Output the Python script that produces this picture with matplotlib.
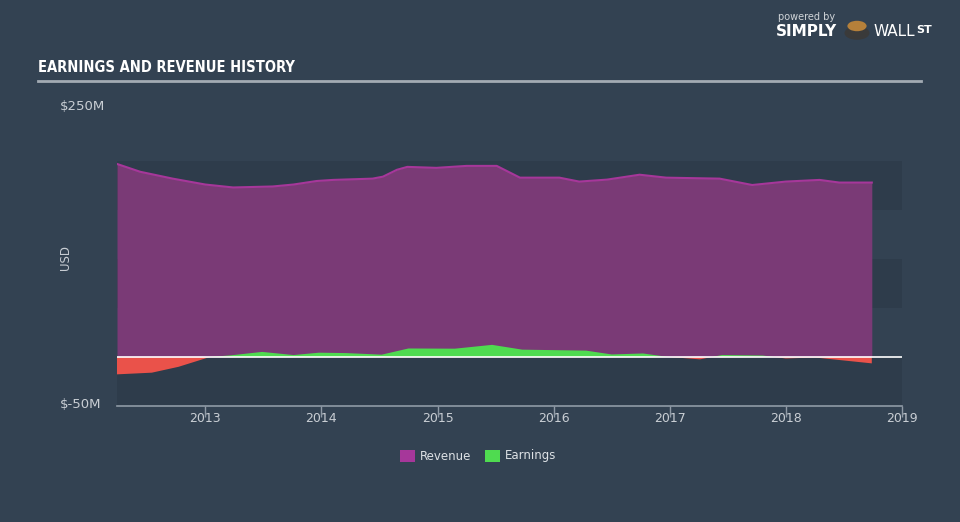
import matplotlib
matplotlib.use("Agg")
import matplotlib.pyplot as plt
from matplotlib.patches import Rectangle, Circle
import numpy as np

# values (US$ millions, decimal years)
rev_years = [2012.24, 2012.44, 2012.72, 2013.00, 2013.24, 2013.58, 2013.76,
             2013.96, 2014.10, 2014.44, 2014.53, 2014.65, 2014.74, 2014.99,
             2015.25, 2015.51, 2015.71, 2016.05, 2016.22, 2016.46, 2016.74,
             2016.97, 2017.43, 2017.71, 2018.00, 2018.29, 2018.46, 2018.74]
revenue = [197, 189, 182, 176, 173, 174, 176,
           179.6, 180.7, 182, 184, 191, 194, 193,
           195, 195, 183, 183, 179, 181, 186,
           183, 182, 175.5, 179, 180.7, 178, 178]

earn_years = [2012.24, 2012.54, 2012.77, 2013.04, 2013.22, 2013.49, 2013.76,
              2013.98, 2014.21, 2014.52, 2014.75, 2015.15, 2015.47, 2015.73,
              2016.28, 2016.50, 2016.77, 2016.97, 2017.26, 2017.45, 2017.80,
              2018.00, 2018.25, 2018.74]
earnings = [-17.7, -16, -10, 0, 1.7, 5.2, 2,
            4.4, 4, 2.4, 8.7, 8.5, 12.4, 7.5,
            6.5, 2.6, 3.6, 0.3, -2.4, 2, 1.5,
            -1.5, -0.5, -6.5]

year_ticks = [2013, 2014, 2015, 2016, 2017, 2018, 2019]

BG = "#334252"
BAND = "#2e3c4b"
REV_FILL = "#7a3a76"
REV_LINE = "#a6379a"
GREEN = "#4fdb50"
RED = "#ea524a"
TXT = "#c9ced4"

fig = plt.figure(figsize=(9.6, 5.22), dpi=100, facecolor=BG)
ax = fig.add_axes([117 / 960, 1 - 406 / 522, 785 / 960, 294 / 522])
ax.set_facecolor(BG)
ax.set_xlim(2012.24, 2019.0)
ax.set_ylim(-50, 250)

# alternating background bands from -50 to 200
for lo in (-50, 50, 150):
    ax.add_patch(Rectangle((2012.24, lo), 2019.0 - 2012.24, 50,
                           facecolor=BAND, edgecolor="none", zorder=0))

rx = np.array(rev_years)
ry = np.array(revenue)
ax.fill_between(rx, 0, ry, color=REV_FILL, lw=0, zorder=1)
ax.plot(rx, ry, color=REV_LINE, lw=1.5, zorder=2)

ex = np.array(earn_years)
ey = np.array(earnings)
ax.fill_between(ex, 0, ey, where=ey >= 0, interpolate=True, color=GREEN, lw=0, zorder=3)
ax.fill_between(ex, 0, ey, where=ey <= 0, interpolate=True, color=RED, lw=0, zorder=3)
ax.axhline(0, color="white", lw=1.2, zorder=4)

for s in ("top", "right", "left"):
    ax.spines[s].set_visible(False)
ax.spines["bottom"].set_color("#8f9aa6")
ax.spines["bottom"].set_linewidth(1.2)
ax.set_yticks([])
ax.set_xticks(year_ticks)
ax.set_xticklabels([str(y) for y in year_ticks])
ax.tick_params(axis="x", colors="#8f9aa6", length=8, width=1, pad=-4,
               labelcolor=TXT, labelsize=9)

# y labels at the extremes, like the reference
fig.text(60 / 960, 1 - 107 / 522, "$250M", color=TXT, fontsize=9.5, va="center", ha="left")
fig.text(60 / 960, 1 - 405 / 522, "$-50M", color=TXT, fontsize=9.5, va="center", ha="left")
fig.text(66 / 960, 1 - 258 / 522, "USD", color=TXT, fontsize=8.5, rotation=90,
         va="center", ha="center")

# title and underline
fig.text(38 / 960, 1 - 68 / 522, "EARNINGS AND REVENUE HISTORY", color="white",
         fontsize=10.5, fontweight="bold", family="DejaVu Sans", fontstretch="condensed",
         va="center", ha="left")
fig.add_artist(plt.Line2D([38 / 960, 921 / 960], [1 - 81 / 522, 1 - 81 / 522],
                          color="#a3abb3", lw=2))

# branding
fig.text(778 / 960, 1 - 17 / 522, "powered by", color="#d0d4d8", fontsize=7,
         va="center", ha="left")
fig.text(776 / 960, 1 - 32 / 522, "SIMPLY", color="white", fontsize=11,
         fontweight="bold", va="center", ha="left")
fig.add_artist(Circle((857 / 960, 1 - 33 / 522), 0.013, transform=fig.transFigure,
                      facecolor="#3a3a3a", edgecolor="none"))
fig.add_artist(Circle((857 / 960, 1 - 26 / 522), 0.010, transform=fig.transFigure,
                      facecolor="#b5803a", edgecolor="none"))
fig.text(873 / 960, 1 - 32 / 522, "WALL", color="white", fontsize=11,
         va="center", ha="left")
fig.text(916 / 960, 1 - 30 / 522, "ST", color="white", fontsize=8,
         fontweight="bold", va="center", ha="left")

# legend
leg_y = 1 - 456 / 522
fig.add_artist(Rectangle((400 / 960, leg_y - 6 / 522), 15 / 960, 12 / 522,
                         transform=fig.transFigure, facecolor="#a6379a", edgecolor="none"))
fig.text(420 / 960, leg_y, "Revenue", color="#dde1e5", fontsize=8.5, va="center", ha="left")
fig.add_artist(Rectangle((485 / 960, leg_y - 6 / 522), 15 / 960, 12 / 522,
                         transform=fig.transFigure, facecolor=GREEN, edgecolor="none"))
fig.text(505 / 960, leg_y, "Earnings", color="#dde1e5", fontsize=8.5, va="center", ha="left")

fig.savefig("out.png", dpi=100, facecolor=BG)
